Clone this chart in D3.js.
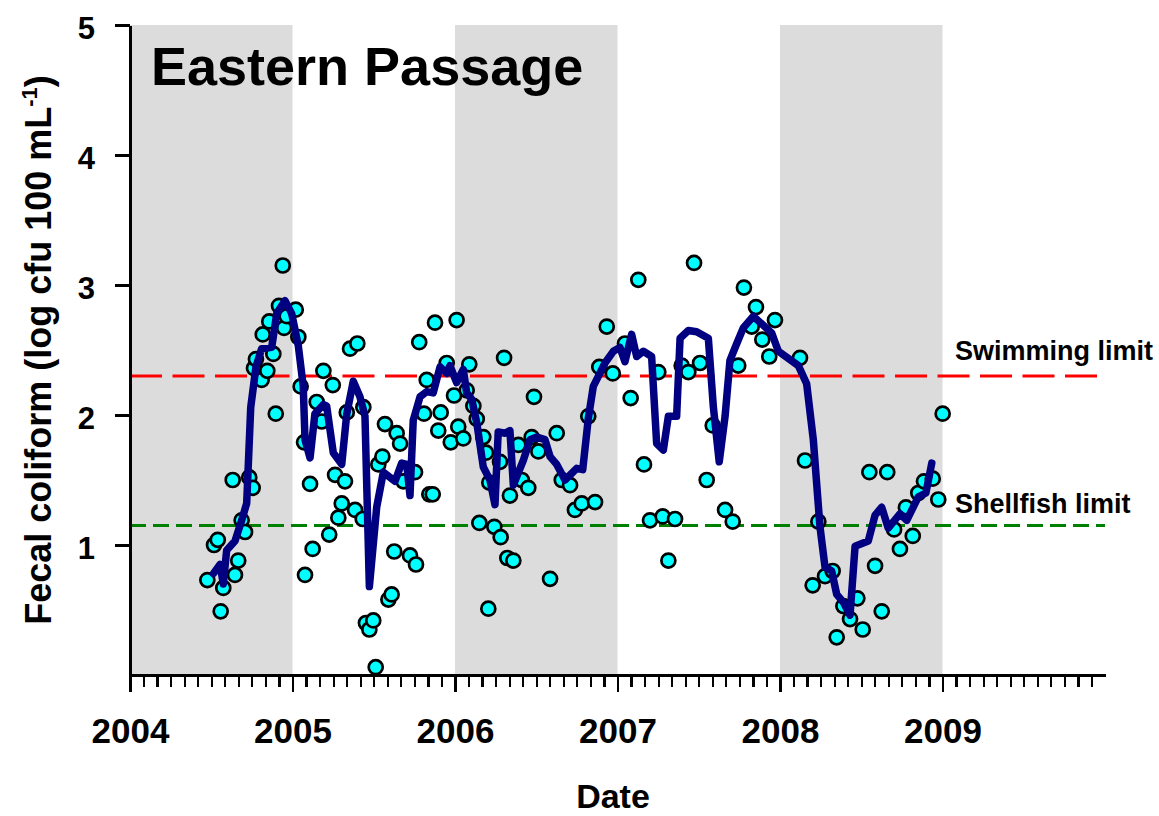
<!DOCTYPE html>
<html>
<head>
<meta charset="utf-8">
<script src="https://cdn.jsdelivr.net/npm/d3@7"></script>
<style>
  html, body { margin: 0; padding: 0; background: #fff; }
  svg { display: block; font-family: "Liberation Sans", Arial, sans-serif; font-weight: bold; }
  .axis path, .axis line { stroke: #000; stroke-width: 2.2px; shape-rendering: crispEdges; }
</style>
</head>
<body>
<svg id="chart" width="1159" height="816"></svg>
<script>
// ---- data ----
const sampleDates = [
  2004.476, 2004.517, 2004.540, 2004.558, 2004.574, 2004.632, 2004.646, 2004.666, 2004.687, 2004.708,
  2004.734, 2004.755, 2004.763, 2004.775, 2004.810, 2004.817, 2004.845, 2004.857, 2004.882, 2004.897,
  2004.917, 2004.940, 2004.948, 2004.964, 2005.020, 2005.036, 2005.050, 2005.071, 2005.077, 2005.108,
  2005.124, 2005.149, 2005.180, 2005.190, 2005.226, 2005.248, 2005.262, 2005.282, 2005.303, 2005.323,
  2005.334, 2005.354, 2005.399, 2005.385, 2005.436, 2005.432, 2005.452, 2005.473, 2005.497, 2005.512,
  2005.528, 2005.553, 2005.569, 2005.590, 2005.610, 2005.626, 2005.641, 2005.662, 2005.682, 2005.723,
  2005.754, 2005.760, 2005.780, 2005.809, 2005.826, 2005.842, 2005.863, 2005.877, 2005.897, 2005.912,
  2005.949, 2005.974, 2005.994, 2006.010, 2006.020, 2006.051, 2006.072, 2006.088, 2006.113, 2006.134,
  2006.150, 2006.174, 2006.191, 2006.205, 2006.211, 2006.242, 2006.277, 2006.281, 2006.302, 2006.322,
  2006.338, 2006.359, 2006.390, 2006.411, 2006.451, 2006.472, 2006.486, 2006.513, 2006.585, 2006.626,
  2006.657, 2006.708, 2006.738, 2006.780, 2006.820, 2006.862, 2006.888, 2006.934, 2006.971, 2007.046,
  2007.081, 2007.128, 2007.163, 2007.200, 2007.251, 2007.278, 2007.313, 2007.354, 2007.395, 2007.436,
  2007.471, 2007.508, 2007.549, 2007.586, 2007.662, 2007.709, 2007.743, 2007.778, 2007.826, 2007.852,
  2007.891, 2007.934, 2007.969, 2008.123, 2008.154, 2008.201, 2008.236, 2008.277, 2008.324, 2008.349,
  2008.390, 2008.431, 2008.476, 2008.509, 2008.550, 2008.585, 2008.626, 2008.660, 2008.702, 2008.738,
  2008.775, 2008.817, 2008.851, 2008.886, 2008.940, 2008.974, 2009.001
];
const sampleValues = [
  0.73, 1.00, 1.04, 0.49, 0.67, 1.50, 0.77, 0.88, 1.19, 1.10,
  1.52, 1.44, 2.36, 2.43, 2.27, 2.62, 2.34, 2.72, 2.47, 2.01,
  2.84, 3.15, 2.67, 2.76, 2.81, 2.60, 2.22, 1.79, 0.77, 1.47,
  0.97, 2.10, 1.95, 2.34, 1.08, 2.23, 1.54, 1.21, 1.32, 1.49,
  2.02, 2.51, 2.55, 1.27, 2.06, 1.20, 0.40, 0.35, 0.42, 0.06,
  1.62, 1.68, 1.93, 0.58, 0.62, 0.95, 1.86, 1.78, 1.49, 0.92,
  1.56, 0.85, 2.56, 2.01, 2.27, 1.39, 1.39, 2.71, 1.88, 2.02,
  2.40, 1.79, 2.15, 2.73, 1.91, 1.82, 2.19, 2.39, 2.07, 1.97,
  1.17, 1.83, 1.71, 0.51, 1.48, 1.14, 1.64, 1.06, 2.44, 0.90,
  1.38, 0.88, 1.77, 1.50, 1.44, 1.83, 2.14, 1.72, 0.74, 1.86,
  1.50, 1.46, 1.27, 1.32, 1.99, 1.33, 2.37, 2.68, 2.32, 2.55,
  2.13, 3.04, 1.62, 1.19, 2.33, 1.22, 0.88, 1.20, 2.38, 2.33,
  3.17, 2.40, 1.50, 1.92, 1.27, 1.18, 2.38, 2.98, 2.68, 2.83,
  2.58, 2.45, 2.73, 2.44, 1.65, 0.69, 1.18, 0.76, 0.80, 0.29,
  0.53, 0.43, 0.59, 0.35, 1.56, 0.84, 0.49, 1.56, 1.12, 0.97,
  1.29, 1.07, 1.40, 1.49, 1.51, 1.35, 2.01
];
const meanDates = [
  2004.513, 2004.554, 2004.574, 2004.595, 2004.646, 2004.687, 2004.718, 2004.743, 2004.775, 2004.810,
  2004.872, 2004.903, 2004.954, 2004.995, 2005.036, 2005.066, 2005.077, 2005.108, 2005.138, 2005.190,
  2005.210, 2005.251, 2005.303, 2005.334, 2005.374, 2005.415, 2005.446, 2005.473, 2005.518, 2005.559,
  2005.631, 2005.672, 2005.703, 2005.723, 2005.743, 2005.785, 2005.826, 2005.866, 2005.908, 2005.949,
  2005.969, 2006.010, 2006.051, 2006.072, 2006.103, 2006.134, 2006.174, 2006.215, 2006.246, 2006.266,
  2006.308, 2006.338, 2006.359, 2006.420, 2006.462, 2006.503, 2006.554, 2006.585, 2006.626, 2006.677,
  2006.749, 2006.786, 2006.820, 2006.851, 2006.923, 2006.974, 2007.015, 2007.046, 2007.087, 2007.118,
  2007.159, 2007.210, 2007.241, 2007.282, 2007.313, 2007.364, 2007.385, 2007.436, 2007.487, 2007.559,
  2007.590, 2007.626, 2007.662, 2007.692, 2007.734, 2007.774, 2007.836, 2007.897, 2007.949, 2007.990,
  2008.113, 2008.164, 2008.205, 2008.246, 2008.277, 2008.318, 2008.349, 2008.390, 2008.431, 2008.462,
  2008.543, 2008.585, 2008.626, 2008.666, 2008.738, 2008.780, 2008.851, 2008.898, 2008.934
];
const meanValues = [
  0.78, 0.85, 0.70, 0.96, 1.03, 1.19, 1.32, 2.06, 2.37, 2.51,
  2.52, 2.78, 2.88, 2.78, 2.53, 2.22, 1.81, 1.67, 2.01, 2.08,
  2.07, 1.71, 1.62, 2.01, 2.26, 2.14, 1.99, 0.68, 1.29, 1.56,
  1.49, 1.63, 1.62, 1.38, 1.96, 2.14, 2.18, 2.17, 2.37, 2.32,
  2.38, 2.25, 2.35, 2.17, 2.12, 1.94, 1.60, 1.50, 1.31, 1.87,
  1.86, 1.88, 1.46, 1.65, 1.81, 1.83, 1.81, 1.68, 1.62, 1.50,
  1.59, 1.58, 1.97, 2.22, 2.40, 2.49, 2.52, 2.41, 2.62, 2.45,
  2.49, 2.45, 1.78, 1.73, 1.99, 1.99, 2.59, 2.65, 2.64, 2.59,
  2.06, 1.64, 1.99, 2.42, 2.55, 2.67, 2.76, 2.69, 2.63, 2.49,
  2.38, 2.24, 1.81, 1.14, 0.83, 0.80, 0.62, 0.56, 0.46, 0.99,
  1.03, 1.23, 1.29, 1.13, 1.24, 1.19, 1.37, 1.40, 1.63
];
const yearTicks = [2004, 2005, 2006, 2007, 2008, 2009];
const yTicks = [1, 2, 3, 4, 5];
const shadedYears = [[2004, 2005], [2006, 2007], [2008, 2009]];
const swimmingLimit = 2.3;
const shellfishLimit = 1.15;
const titleText = "Eastern Passage";
const xLabel = "Date";

// ---- chart ----
const svg = d3.select("#chart");
const x = d3.scaleLinear().domain([2004, 2010]).range([130, 1105]);
const y = d3.scaleLinear().domain([0, 5]).range([675, 25]);

// shaded years
svg.append("g").selectAll("rect").data(shadedYears).join("rect")
  .attr("x", d => x(d[0])).attr("width", d => x(d[1]) - x(d[0]))
  .attr("y", y(5)).attr("height", y(0) - y(5))
  .attr("fill", "#dcdcdc");

// limits
svg.append("line")
  .attr("x1", x(2004)).attr("x2", x(2010))
  .attr("y1", y(swimmingLimit)).attr("y2", y(swimmingLimit))
  .attr("stroke", "#ff0000").attr("stroke-width", 3).attr("stroke-dasharray", "32,10.5");
svg.append("line")
  .attr("x1", x(2004)).attr("x2", x(2010))
  .attr("y1", y(shellfishLimit)).attr("y2", y(shellfishLimit))
  .attr("stroke", "#008000").attr("stroke-width", 3).attr("stroke-dasharray", "16,7");

// points
svg.append("g").selectAll("circle").data(sampleDates).join("circle")
  .attr("cx", d => x(d)).attr("cy", (d, i) => y(sampleValues[i]))
  .attr("r", 7).attr("fill", "#00ffff").attr("stroke", "#000").attr("stroke-width", 2.7);

// running mean line
const line = d3.line().x(d => x(d[0])).y(d => y(d[1]));
svg.append("path")
  .datum(meanDates.map((d, i) => [d, meanValues[i]]))
  .attr("d", line)
  .attr("fill", "none").attr("stroke", "#000080").attr("stroke-width", 7.5)
  .attr("stroke-linejoin", "round").attr("stroke-linecap", "round");

// x axis minor ticks
const minor = d3.range(1, 72).filter(m => m % 12 !== 0).map(m => 2004 + m / 12);
svg.append("g").attr("class", "axis").attr("transform", `translate(0,${y(0)})`)
  .call(d3.axisBottom(x).tickValues(minor).tickSize(12).tickSizeOuter(0).tickFormat(""))
  .call(g => g.select(".domain").remove());
// x axis major
const gx = svg.append("g").attr("class", "axis").attr("transform", `translate(0,${y(0)})`)
  .call(d3.axisBottom(x).tickValues(yearTicks).tickSize(17).tickSizeOuter(0).tickFormat(d3.format("d")));
gx.selectAll("text").attr("y", 68).attr("dy", 0)
  .style("font-size", "35px").style("font-weight", "bold").attr("fill", "#000")
  .style("font-family", "'Liberation Sans', Arial, sans-serif");

// y axis
const gy = svg.append("g").attr("class", "axis").attr("transform", `translate(${x(2004)},0)`)
  .call(d3.axisLeft(y).tickValues(yTicks).tickSize(15).tickSizeOuter(0).tickFormat(d3.format("d")));
gy.selectAll("text").attr("x", -35).attr("dy", 13)
  .style("font-size", "31px").style("font-weight", "bold").attr("fill", "#000")
  .style("font-family", "'Liberation Sans', Arial, sans-serif");

// labels
svg.append("text").attr("x", 151).attr("y", 85).style("font-size", "54px").text(titleText);
svg.append("text").attr("x", 955).attr("y", 360).style("font-size", "27px").text("Swimming limit");
svg.append("text").attr("x", 955).attr("y", 513).style("font-size", "27px").text("Shellfish limit");
svg.append("text").attr("x", 613).attr("y", 808)
  .attr("text-anchor", "middle").style("font-size", "34px").text(xLabel);

const yl = svg.append("text")
  .attr("transform", `translate(51,${(y(0) + y(5)) / 2}) rotate(-90)`)
  .attr("text-anchor", "middle").style("font-size", "36px");
yl.append("tspan").text("Fecal coliform (log cfu 100 mL");
yl.append("tspan").attr("dy", -14).style("font-size", "22px").text("-1");
yl.append("tspan").attr("dy", 14).text(")");
</script>
</body>
</html>
